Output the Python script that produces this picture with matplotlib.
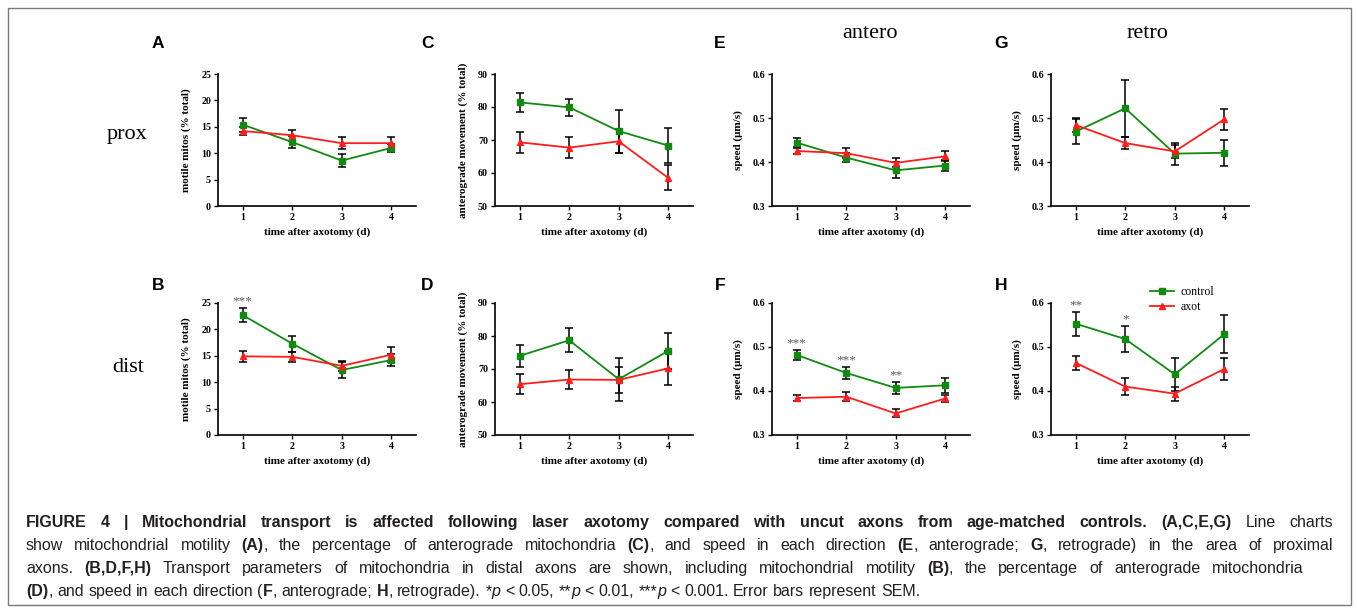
import numpy as np
import matplotlib
matplotlib.use('Agg')
import matplotlib.pyplot as plt
from matplotlib import font_manager
from matplotlib.transforms import IdentityTransform
from matplotlib.patches import Rectangle

days = [1, 2, 3, 4]

# proximal axons (top row)
prox_motile_ctrl = [15.4, 12.1, 8.6, 11.0]
prox_motile_ctrl_err = [1.3, 1.2, 1.2, 0.8]
prox_motile_axot = [14.2, 13.4, 11.9, 11.9]
prox_motile_axot_err = [0.8, 1.0, 1.1, 1.2]

prox_antero_ctrl = [81.4, 79.9, 72.7, 68.3]
prox_antero_ctrl_err = [2.9, 2.6, 6.5, 5.3]
prox_antero_axot = [69.3, 67.7, 69.6, 58.5]
prox_antero_axot_err = [3.2, 3.3, 3.6, 3.8]

prox_speed_a_ctrl = [0.444, 0.410, 0.381, 0.392]
prox_speed_a_ctrl_err = [0.010, 0.010, 0.018, 0.012]
prox_speed_a_axot = [0.425, 0.420, 0.398, 0.413]
prox_speed_a_axot_err = [0.006, 0.011, 0.010, 0.011]

prox_speed_r_ctrl = [0.469, 0.522, 0.419, 0.421]
prox_speed_r_ctrl_err = [0.029, 0.065, 0.025, 0.030]
prox_speed_r_axot = [0.484, 0.443, 0.424, 0.497]
prox_speed_r_axot_err = [0.016, 0.013, 0.015, 0.024]

# distal axons (bottom row)
dist_motile_ctrl = [22.7, 17.3, 12.3, 14.2]
dist_motile_ctrl_err = [1.3, 1.5, 1.5, 1.2]
dist_motile_axot = [14.9, 14.8, 13.1, 15.2]
dist_motile_axot_err = [1.1, 1.0, 1.0, 1.4]

dist_antero_ctrl = [74.0, 78.7, 66.9, 75.5]
dist_antero_ctrl_err = [3.4, 3.6, 6.5, 5.4]
dist_antero_axot = [65.4, 66.8, 66.7, 70.2]
dist_antero_axot_err = [3.1, 2.8, 4.0, 5.2]

dist_speed_a_ctrl = [0.482, 0.441, 0.407, 0.413]
dist_speed_a_ctrl_err = [0.011, 0.013, 0.014, 0.017]
dist_speed_a_axot = [0.384, 0.387, 0.349, 0.383]
dist_speed_a_axot_err = [0.007, 0.010, 0.009, 0.009]

dist_speed_r_ctrl = [0.553, 0.518, 0.438, 0.529]
dist_speed_r_ctrl_err = [0.027, 0.030, 0.038, 0.043]
dist_speed_r_axot = [0.464, 0.410, 0.394, 0.450]
dist_speed_r_axot_err = [0.016, 0.019, 0.016, 0.025]

stars_B = ['***', '', '', '']
stars_F = ['***', '***', '**', '']
stars_H = ['**', '*', '', '']

motile_label = 'motile mitos (% total)'
antero_label = 'anterograde movement (% total)'
speed_label = 'speed (\u03bcm/s)'
x_label = 'time after axotomy (d)'

GREEN = '#128a12'
RED = '#ff1c1c'
SERIF = 'Liberation Serif'
SANS = 'Liberation Sans'

W, H = 1357, 612
fig = plt.figure(figsize=(W / 100, H / 100), dpi=100)

panels = [
    # letter, row, col, ctrl, ctrl_err, axot, axot_err, ylim, yticks, ylabel, stars
    ('A', 0, 0, prox_motile_ctrl, prox_motile_ctrl_err, prox_motile_axot, prox_motile_axot_err,
     (0, 25), [0, 5, 10, 15, 20, 25], motile_label, None),
    ('C', 0, 1, prox_antero_ctrl, prox_antero_ctrl_err, prox_antero_axot, prox_antero_axot_err,
     (50, 90), [50, 60, 70, 80, 90], antero_label, None),
    ('E', 0, 2, prox_speed_a_ctrl, prox_speed_a_ctrl_err, prox_speed_a_axot, prox_speed_a_axot_err,
     (0.3, 0.6), [0.3, 0.4, 0.5, 0.6], speed_label, None),
    ('G', 0, 3, prox_speed_r_ctrl, prox_speed_r_ctrl_err, prox_speed_r_axot, prox_speed_r_axot_err,
     (0.3, 0.6), [0.3, 0.4, 0.5, 0.6], speed_label, None),
    ('B', 1, 0, dist_motile_ctrl, dist_motile_ctrl_err, dist_motile_axot, dist_motile_axot_err,
     (0, 25), [0, 5, 10, 15, 20, 25], motile_label, stars_B),
    ('D', 1, 1, dist_antero_ctrl, dist_antero_ctrl_err, dist_antero_axot, dist_antero_axot_err,
     (50, 90), [50, 60, 70, 80, 90], antero_label, None),
    ('F', 1, 2, dist_speed_a_ctrl, dist_speed_a_ctrl_err, dist_speed_a_axot, dist_speed_a_axot_err,
     (0.3, 0.6), [0.3, 0.4, 0.5, 0.6], speed_label, stars_F),
    ('H', 1, 3, dist_speed_r_ctrl, dist_speed_r_ctrl_err, dist_speed_r_axot, dist_speed_r_axot_err,
     (0.3, 0.6), [0.3, 0.4, 0.5, 0.6], speed_label, stars_H),
]

# pixel layout of the axes boxes
col_left = [218, 495, 772, 1051]
row_bottom = [206, 435]
ax_w, ax_h = 198, 132
letter_x = [158, 427, 720, 1001]
letter_y = [43, 285]

for (letter, r, c, ctrl, ctrl_err, axot, axot_err, ylim, yticks, ylabel, stars) in panels:
    ax = fig.add_axes([col_left[c] / W, 1 - row_bottom[r] / H, ax_w / W, ax_h / H])
    ax.errorbar(days, ctrl, yerr=ctrl_err, fmt='none', ecolor='black',
                elinewidth=1.1, capsize=2.7, capthick=1.1, zorder=2)
    ax.errorbar(days, axot, yerr=axot_err, fmt='none', ecolor='black',
                elinewidth=1.1, capsize=2.7, capthick=1.1, zorder=2)
    ax.plot(days, ctrl, color=GREEN, marker='s', ms=4.5, lw=1.3, label='control', zorder=3)
    ax.plot(days, axot, color=RED, marker='^', ms=4.5, lw=1.3, label='axot', zorder=3)
    ax.set_xlim(0.5, 4.5)
    ax.set_ylim(*ylim)
    ax.set_xticks(days)
    ax.set_yticks(yticks)
    for sp in ['top', 'right']:
        ax.spines[sp].set_visible(False)
    for sp in ['left', 'bottom']:
        ax.spines[sp].set_linewidth(1.2)
    ax.tick_params(direction='out', length=3, width=1, pad=2)
    for lab in ax.get_xticklabels() + ax.get_yticklabels():
        lab.set_fontfamily(SERIF)
        lab.set_fontweight('bold')
        lab.set_fontsize(7.2)
    ax.set_xlabel(x_label, family=SERIF, weight='bold', fontsize=8, labelpad=4)
    ax.set_ylabel(ylabel, family=SERIF, weight='bold', fontsize=8, labelpad=7)
    if stars is not None:
        rng = ylim[1] - ylim[0]
        for d, s, v, e in zip(days, stars, ctrl, ctrl_err):
            if s:
                ax.text(d, v + e + 0.05 * rng, s, ha='center', va='center',
                        fontsize=9.5, color='#5a5a5a', family=SERIF)
    if letter == 'H':
        ax.legend(loc='upper left', bbox_to_anchor=(0.47, 1.17), frameon=False,
                  prop={'family': SERIF, 'size': 8.5}, handlelength=2.0,
                  labelspacing=0.25, borderpad=0, handletextpad=0.6)
    fig.text(letter_x[c] / W, 1 - letter_y[r] / H, letter, family=SANS, weight='bold',
             fontsize=12.5, ha='center', va='center')

# row / column headings
fig.text(127 / W, 1 - 135 / H, 'prox', family=SERIF, fontsize=16, ha='center', va='center')
fig.text(128 / W, 1 - 367 / H, 'dist', family=SERIF, fontsize=16, ha='center', va='center')
fig.text(870 / W, 1 - 34 / H, 'antero', family=SERIF, fontsize=16, ha='center', va='center')
fig.text(1147 / W, 1 - 34 / H, 'retro', family=SERIF, fontsize=16, ha='center', va='center')

# frame around the whole figure
fig.patches.append(Rectangle((8 / W, 1 - 605 / H), 1343 / W, 597 / H, transform=fig.transFigure,
                             fill=False, edgecolor='#7a7a7a', lw=1.0))

# caption: (text, style) runs per line; n = normal, b = bold, i = italic
caption = [
    [('FIGURE 4 | Mitochondrial transport is affected following laser axotomy compared with '
      'uncut axons from age-matched controls. (A,C,E,G)', 'b'), (' Line charts', 'n')],
    [('show mitochondrial motility ', 'n'), ('(A)', 'b'),
     (', the percentage of anterograde mitochondria ', 'n'), ('(C)', 'b'),
     (', and speed in each direction ', 'n'), ('(E', 'b'), (', anterograde; ', 'n'),
     ('G', 'b'), (', retrograde) in the area of proximal', 'n')],
    [('axons. ', 'n'), ('(B,D,F,H)', 'b'),
     (' Transport parameters of mitochondria in distal axons are shown, including '
      'mitochondrial motility ', 'n'), ('(B)', 'b'),
     (', the percentage of anterograde mitochondria', 'n')],
    [('(D)', 'b'), (', and speed in each direction (', 'n'), ('F', 'b'),
     (', anterograde; ', 'n'), ('H', 'b'), (', retrograde). *', 'n'), ('p', 'i'),
     (' < 0.05, **', 'n'), ('p', 'i'), (' < 0.01, ***', 'n'), ('p', 'i'),
     (' < 0.001. Error bars represent SEM.', 'n')],
]
line_ends = [1333, 1333, 1303, None]
baselines = [527, 550, 573, 596]

try:
    font_manager.findfont('Liberation Sans Narrow', fallback_to_default=False)
    cap_family = 'Liberation Sans Narrow'
except ValueError:
    cap_family = 'Liberation Sans'

STYLE = {'n': dict(weight='normal', style='normal'),
         'b': dict(weight='bold', style='normal'),
         'i': dict(weight='normal', style='italic')}

renderer = fig.canvas.get_renderer()


def seg_width(s, size, st):
    t = fig.text(0, 0, s + 'I', family=cap_family, fontsize=size, transform=IdentityTransform(),
                 **STYLE[st])
    w1 = t.get_window_extent(renderer).width
    t.set_text('I')
    w0 = t.get_window_extent(renderer).width
    t.remove()
    return w1 - w0


x0 = 26
base = 11.0
# font size chosen so the first two (justified) lines fit the frame
scales = [(1333 - x0) / sum(seg_width(s, base, st) for s, st in line) for line in caption[:2]]
cap_size = min(base * min(scales), 11.5)

for line, yb, end in zip(caption, baselines, line_ends):
    natural = sum(seg_width(s, cap_size, st) for s, st in line)
    nspace = sum(s.count(' ') for s, st in line)
    extra = 0.0
    if end and nspace and natural < end - x0:
        extra = (end - x0 - natural) / nspace
    x = x0
    for s, st in line:
        parts = s.split(' ')
        for i, p in enumerate(parts):
            if p:
                fig.text(x, H - yb, p, family=cap_family, fontsize=cap_size, ha='left',
                         va='baseline', transform=IdentityTransform(), color='#231f20',
                         **STYLE[st])
                x += seg_width(p, cap_size, st)
            if i < len(parts) - 1:
                x += seg_width(' ', cap_size, st) + extra

fig.savefig('out.png', dpi=100)
